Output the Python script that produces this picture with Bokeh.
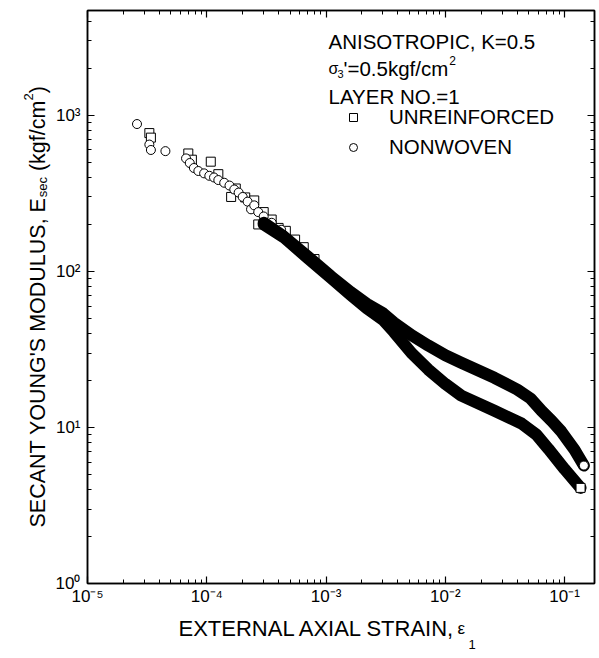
import math
from bokeh.plotting import figure
from bokeh.layouts import row, column
from bokeh.models import (LogAxis, LogTicker, CustomJSTickFormatter, Label,
                          Legend, LegendItem, Range1d)
from bokeh.embed import file_html
from bokeh.resources import INLINE

# ---------------- data ----------------
# NONWOVEN (circles): isolated early points
nw_sparse_x = [2.6e-5, 3.3e-5, 3.4e-5, 4.5e-5, 6.7e-5, 7.2e-5, 7.8e-5, 8.5e-5,
               9.5e-5, 1.05e-4, 1.15e-4, 1.25e-4, 1.4e-4, 1.55e-4, 1.7e-4,
               1.85e-4, 2.0e-4, 2.2e-4, 2.35e-4, 2.5e-4, 2.7e-4, 3.0e-4,
               3.5e-4, 4.2e-4]
nw_sparse_y = [880, 650, 600, 590, 530, 495, 460, 440,
               425, 410, 400, 385, 370, 355, 335,
               320, 300, 280, 250, 265, 240, 225,
               205, 185]
# NONWOVEN dense band
nw_band_x = [3.0e-4, 4.4e-4, 7.0e-4, 1.1e-3, 1.6e-3, 2.2e-3, 3.0e-3, 3.7e-3,
             5.2e-3, 7.2e-3, 1.0e-2, 1.36e-2, 2.58e-2, 4.0e-2, 5.2e-2, 6.4e-2,
             7.8e-2, 9.4e-2, 1.21e-1, 1.45e-1]
nw_band_y = [205, 168, 125, 93, 74, 62, 54, 47,
             39, 33.5, 29, 26, 20.8, 17.5, 15.3, 12.8,
             11.0, 9.4, 7.2, 5.7]

# UNREINFORCED (squares): isolated early points
ur_sparse_x = [3.3e-5, 3.4e-5, 7.0e-5, 7.5e-5, 1.08e-4, 1.25e-4, 1.6e-4,
               1.75e-4, 2.1e-4, 2.5e-4, 2.7e-4, 3.0e-4, 3.5e-4, 4.0e-4,
               4.6e-4, 5.5e-4, 6.5e-4, 8.0e-4]
ur_sparse_y = [770, 720, 570, 520, 505, 420, 300,
               340, 298, 285, 200, 240, 215, 190,
               182, 160, 143, 120]
# UNREINFORCED dense band
ur_band_x = [3.0e-4, 4.4e-4, 7.0e-4, 1.1e-3, 1.6e-3, 2.2e-3, 3.0e-3, 3.7e-3,
             5.2e-3, 7.2e-3, 1.0e-2, 1.36e-2, 2.58e-2, 4.35e-2, 5.8e-2, 7.3e-2,
             1.0e-1, 1.36e-1]
ur_band_y = [200, 166, 122, 91, 71, 58, 49, 41,
             30, 23.5, 19, 16, 12.8, 10.6, 9.0, 7.3,
             5.4, 4.1]

x_limits = [1e-5, 0.178]
y_limits = [1, 4700]

series_labels = ["UNREINFORCED", "NONWOVEN"]
info_lines = ["ANISOTROPIC, K=0.5", "LAYER NO.=1"]
x_title = "EXTERNAL AXIAL STRAIN,"
y_title = "SECANT YOUNG'S MODULUS, E"

# ---------------- layout (global canvas pixels) ----------------
W, H = 599, 658
YT_W = 52                 # strip for the y title
MAIN_W = W - YT_W
MAIN_H = 610
XT_H = H - MAIN_H         # strip for the x title
FL, FR, FT, FB = 87, 594, 10, 583   # main frame edges
FONT = "Liberation Sans"
DY = 7                    # baseline correction for Label text

p = figure(width=MAIN_W, height=MAIN_H, x_axis_type="log", y_axis_type="log",
           x_range=Range1d(*x_limits), y_range=Range1d(*y_limits),
           output_backend="svg", toolbar_location=None,
           min_border_left=FL - YT_W, min_border_right=W - FR,
           min_border_top=FT, min_border_bottom=MAIN_H - FB,
           background_fill_color="white", border_fill_color="white")
p.grid.visible = False
p.outline_line_color = "black"
p.outline_line_width = 1.5

sup_js = """
const m = {'-':'\u207b','0':'\u2070','1':'\u00b9','2':'\u00b2','3':'\u00b3','4':'\u2074',
           '5':'\u2075','6':'\u2076','7':'\u2077','8':'\u2078','9':'\u2079'};
const e = Math.round(Math.log10(tick));
return '10' + String(e).split('').map(c => m[c]).join('');
"""
label_fmt = CustomJSTickFormatter(code=sup_js)
empty_fmt = CustomJSTickFormatter(code="return '';")


def style_axis(ax, labels=True):
    ax.ticker = LogTicker(mantissas=[1], num_minor_ticks=10, desired_num_ticks=6)
    ax.major_tick_in = 7
    ax.major_tick_out = 0
    ax.minor_tick_in = 4
    ax.minor_tick_out = 0
    ax.axis_line_color = "black"
    ax.axis_line_width = 1.5
    ax.major_tick_line_color = "black"
    ax.major_tick_line_width = 1.2
    ax.minor_tick_line_color = "black"
    ax.minor_tick_line_width = 1
    if labels:
        ax.formatter = label_fmt
        ax.major_label_text_font = FONT
        ax.major_label_text_font_size = "17px"
        ax.major_label_text_color = "black"
    else:
        ax.formatter = empty_fmt
        ax.major_label_standoff = 0


style_axis(p.xaxis[0])
style_axis(p.yaxis[0])
p.xaxis[0].major_label_standoff = 3
p.yaxis[0].major_label_standoff = 7

top_ax = LogAxis()
right_ax = LogAxis()
style_axis(top_ax, labels=False)
style_axis(right_ax, labels=False)
p.add_layout(top_ax, "above")
p.add_layout(right_ax, "right")

# ---------------- data marks ----------------
ur_r = p.scatter(ur_sparse_x, ur_sparse_y, marker="square", size=9,
                 fill_color="white", line_color="black", line_width=1)
nw_r = p.scatter(nw_sparse_x, nw_sparse_y, marker="circle", size=9,
                 fill_color="white", line_color="black", line_width=1)

p.line(ur_band_x, ur_band_y, line_width=12, line_color="black",
       line_join="round", line_cap="round")
p.line(nw_band_x, nw_band_y, line_width=12, line_color="black",
       line_join="round", line_cap="round")

p.scatter([ur_band_x[-1]], [ur_band_y[-1]], marker="square", size=9,
          fill_color="white", line_color="black", line_width=1)
p.scatter([nw_band_x[-1]], [nw_band_y[-1]], marker="circle", size=9,
          fill_color="white", line_color="black", line_width=1)

# ---------------- legend ----------------
legend = Legend(items=[LegendItem(label=series_labels[0], renderers=[ur_r]),
                       LegendItem(label=series_labels[1], renderers=[nw_r])],
                location=(256, 424), padding=0, margin=0, spacing=6,
                glyph_width=20, glyph_height=20, label_standoff=26,
                label_text_font=FONT, label_text_font_size="20.5px",
                label_text_color="black",
                border_line_color=None, background_fill_alpha=0)
p.add_layout(legend)

# ---------------- title strips ----------------
ytf = figure(width=YT_W, height=H, x_range=Range1d(0, 1), y_range=Range1d(0, 1),
             output_backend="svg", toolbar_location=None, min_border=0,
             x_axis_location=None, y_axis_location=None,
             outline_line_color=None, border_fill_color="white")
ytf.grid.visible = False
xtf = figure(width=MAIN_W, height=XT_H, x_range=Range1d(0, 1), y_range=Range1d(0, 1),
             output_backend="svg", toolbar_location=None, min_border=0,
             x_axis_location=None, y_axis_location=None,
             outline_line_color=None, border_fill_color="white")
xtf.grid.visible = False

# frame origins (left, bottom) of each figure in global pixels
# (the column aligns the x-title strip's frame with the main frame)
ORIG = {id(p): (FL, FB), id(ytf): (0, H), id(xtf): (FL, H)}

# ---------------- text helpers ----------------
AW = {' ': 278, "'": 191, '(': 333, ')': 333, ',': 278, '.': 278, '/': 278,
      '=': 584, 'A': 667, 'B': 667, 'C': 722, 'D': 722, 'E': 667, 'F': 611,
      'G': 778, 'H': 722, 'I': 278, 'J': 500, 'K': 667, 'L': 556, 'M': 833,
      'N': 722, 'O': 778, 'P': 667, 'Q': 778, 'R': 722, 'S': 667, 'T': 611,
      'U': 722, 'V': 667, 'W': 944, 'X': 667, 'Y': 667, 'Z': 611, 'a': 556,
      'c': 500, 'e': 556, 'f': 278, 'g': 556, 'k': 500, 'm': 833, 's': 500}


def tw(s, size):
    return sum(AW.get(ch, 556) for ch in s) * size / 1000.0


def lab(fig, text, X, Y, size, rotated=False):
    ox, oy = ORIG[id(fig)]
    if rotated:
        X, ang = X - DY, math.pi / 2
    else:
        Y, ang = Y - DY, 0.0
    fig.add_layout(Label(x=X - ox, y=oy - Y, x_units="screen", y_units="screen",
                         text=text, text_font=FONT, text_font_size=f"{size}px",
                         text_color="black", text_align="left",
                         text_baseline="alphabetic", angle=ang))


# info block (inside the frame)
lab(p, info_lines[0], 328, 48, 20.5)
lab(p, "\u03c3", 328, 75, 16)
lab(p, "3", 337, 80, 11)
s_eq = "'=0.5kgf/cm"
lab(p, s_eq, 343, 75, 20.5)
lab(p, "2", 343 + tw(s_eq, 20.5) + 1, 67, 12)
lab(p, info_lines[1], 328, 103, 20.5)

# x title
XS = 22
lab(xtf, x_title, 178, 635, XS)
lab(xtf, "\u03b5", 457, 635, 17)
lab(xtf, "1", 468, 651, 13)

# y title (rotated, reading upwards)
YS = 21.5
bx = 44      # baseline x
y0 = 527     # starting y (bottom end)
pos = y0
lab(ytf, y_title, bx, pos, YS, rotated=True)
pos -= tw(y_title, YS)
lab(ytf, "sec", bx + 5, pos, 13, rotated=True)
pos -= tw("sec", 13) + tw(" ", YS)
s2 = "(kgf/cm"
lab(ytf, s2, bx, pos, YS, rotated=True)
pos -= tw(s2, YS)
lab(ytf, "2", bx - 9, pos, 13, rotated=True)
pos -= tw("2", 13)
lab(ytf, ")", bx, pos, YS, rotated=True)

root = row(ytf, column(p, xtf, spacing=0), spacing=0)
open("out.html", "w").write(file_html(root, INLINE))
